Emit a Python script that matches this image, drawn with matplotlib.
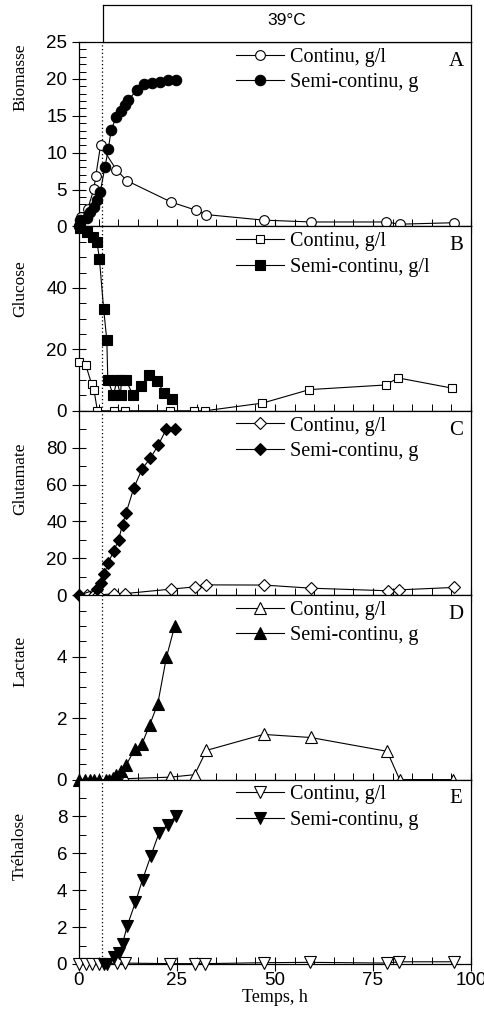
import matplotlib
matplotlib.use('Agg')
import matplotlib.pyplot as plt
from matplotlib.ticker import MultipleLocator, FixedLocator

# ---------------- data ----------------
# A - Biomasse
bio_c_x = [0.4, 2.2, 3.8, 4.3, 5.5, 9.5, 12.2, 23.5, 29.8, 32.5, 47.1, 59.2, 78.4, 81.8, 95.7]
bio_c_y = [1.3, 2.3, 5.1, 6.9, 11.0, 7.7, 6.2, 3.3, 2.2, 1.6, 0.85, 0.6, 0.6, 0.3, 0.5]
bio_s_x = [0.0, 0.3, 2.0, 2.8, 3.7, 4.5, 5.4, 6.6, 7.5, 8.2, 9.5, 10.6, 11.7, 12.6, 14.7, 16.6, 18.7, 20.7, 22.8, 24.8]
bio_s_y = [0.0, 0.9, 1.2, 2.0, 2.6, 3.6, 4.6, 8.0, 10.5, 13.1, 14.8, 15.6, 16.4, 17.1, 18.5, 19.3, 19.4, 19.6, 19.9, 19.9]

# B - Glucose
glc_c_x = [0.0, 1.7, 3.2, 3.8, 4.7, 8.9, 11.7, 23.2, 29.3, 32.1, 46.8, 58.8, 78.2, 81.4, 95.1]
glc_c_y = [15.8, 15.0, 8.8, 6.9, 0.0, 0.0, 0.0, 0.0, 0.0, 0.0, 2.5, 6.9, 8.4, 10.7, 7.4]
glc_s_x = [0.2, 2.0, 3.6, 4.6, 5.2, 6.3, 7.1, 7.35, 8.8, 9.65, 10.6, 10.8, 12.0, 13.8, 15.8, 17.9, 19.8, 21.8, 23.8]
glc_s_y = [59.4, 58.2, 56.6, 54.9, 49.5, 33.0, 22.9, 10.0, 5.0, 10.0, 5.0, 10.0, 10.0, 5.0, 8.0, 11.8, 9.8, 5.8, 3.9]

# C - Glutamate
glu_c_x = [2.0, 3.7, 4.8, 9.0, 11.8, 23.5, 29.5, 32.4, 47.2, 59.2, 78.7, 81.6, 95.6]
glu_c_y = [0.0, 0.0, 0.0, 0.9, 0.9, 3.3, 4.5, 5.6, 5.5, 3.8, 2.4, 2.9, 4.2]
glu_s_x = [0.0, 4.6, 5.7, 6.5, 7.4, 8.9, 10.1, 11.1, 12.0, 14.0, 16.1, 18.2, 20.2, 22.3, 24.4]
glu_s_y = [0.0, 3.3, 6.8, 11.5, 17.5, 24.0, 30.2, 38.2, 44.6, 58.2, 68.5, 74.3, 81.3, 90.2, 90.2]

# D - Lactate
lac_c_x = [9.5, 11.8, 23.3, 29.5, 32.5, 47.1, 59.1, 78.6, 81.8, 95.5]
lac_c_y = [0.0, 0.03, 0.08, 0.16, 0.95, 1.47, 1.37, 0.92, 0.0, 0.0]
lac_s_x = [0.0, 1.5, 2.7, 3.8, 5.0, 6.8, 7.7, 8.6, 9.5, 10.6, 12.1, 14.2, 16.1, 18.0, 20.1, 22.3, 24.4]
lac_s_y = [0.0, 0.0, 0.0, 0.0, 0.0, 0.0, 0.0, 0.05, 0.16, 0.27, 0.49, 0.98, 1.17, 1.77, 2.47, 3.98, 4.99]

# E - Trehalose
tre_c_x = [0.0, 1.7, 3.2, 5.1, 9.8, 11.7, 23.2, 29.6, 32.2, 47.1, 59.0, 78.6, 81.7, 95.7]
tre_c_y = [0.0, 0.0, 0.0, 0.0, 0.05, 0.05, 0.02, 0.02, 0.02, 0.07, 0.09, 0.05, 0.12, 0.12]
tre_s_x = [6.3, 7.2, 8.9, 10.2, 11.1, 12.3, 14.4, 16.2, 18.3, 20.4, 22.6, 24.7]
tre_s_y = [0.0, 0.0, 0.4, 0.6, 1.1, 2.07, 3.35, 4.57, 5.85, 7.1, 7.55, 8.04]

ylabels = ['Biomasse', 'Glucose', 'Glutamate', 'Lactate', 'Tréhalose']
letters = ['A', 'B', 'C', 'D', 'E']
lab_c = ['Continu, g/l'] * 5
lab_s = ['Semi-continu, g', 'Semi-continu, g/l', 'Semi-continu, g', 'Semi-continu, g', 'Semi-continu, g']
x_ticks = [0, 25, 50, 75, 100]
switch_time = 5.9

# ---------------- styling ----------------
SERIF = ['Liberation Serif', 'DejaVu Serif']
SANS = ['Liberation Sans', 'DejaVu Sans']

panels = [
    (bio_c_x, bio_c_y, bio_s_x, bio_s_y, 'o', 7.0, 7.5, (0, 25), [0, 5, 10, 15, 20, 25], 1, 0.81),
    (glc_c_x, glc_c_y, glc_s_x, glc_s_y, 's', 6.0, 6.5, (0, 60), [0, 20, 40], 5, 0.66),
    (glu_c_x, glu_c_y, glu_s_x, glu_s_y, 'D', 6.0, 6.0, (0, 100), [0, 20, 40, 60, 80], 10, 0.63),
    (lac_c_x, lac_c_y, lac_s_x, lac_s_y, '^', 8.0, 8.0, (0, 6), [0, 2, 4], 0.5, 0.64),
    (tre_c_x, tre_c_y, tre_s_x, tre_s_y, 'v', 8.0, 8.0, (0, 10), [0, 2, 4, 6, 8], 1, 0.64),
]

fig = plt.figure(figsize=(4.85, 10.11), dpi=100)
W, H = 485.0, 1011.0
left = 79 / W
width = 392 / W
top_px = 42.0
bot_px = 964.0
ph = (bot_px - top_px) / 5.0

for i, (cx, cy, sx, sy, mk, msc, mss, ylim, yt, ymin, ylab_y) in enumerate(panels):
    y0_px = top_px + (i + 1) * ph
    ax = fig.add_axes([left, (H - y0_px) / H, width, ph / H])
    ax.plot(cx, cy, color='black', lw=0.8, marker=mk, ms=msc, mfc='white', mec='black',
            mew=0.8, label=lab_c[i], clip_on=False, zorder=3)
    ax.plot(sx, sy, color='black', lw=0.8, marker=mk, ms=mss, mfc='black', mec='black',
            mew=0.8, label=lab_s[i], clip_on=False, zorder=4)
    ax.axvline(switch_time, color='black', ls=(0, (1, 2)), lw=0.9, zorder=1)
    ax.set_xlim(0, 100)
    ax.set_ylim(*ylim)
    ax.xaxis.set_major_locator(FixedLocator(x_ticks))
    ax.xaxis.set_minor_locator(MultipleLocator(5))
    ax.yaxis.set_major_locator(FixedLocator(yt))
    ax.yaxis.set_minor_locator(MultipleLocator(ymin))
    ax.tick_params(which='major', direction='inout', length=10, width=0.8)
    ax.tick_params(which='minor', direction='in', length=5, width=0.7)
    for lbl in ax.get_yticklabels():
        lbl.set_family(SANS)
        lbl.set_fontsize(13.5)
    if i < 4:
        ax.set_xticklabels([])
    else:
        ax.tick_params(axis='x', which='major', pad=1)
        ax.set_xticklabels([str(t) for t in x_ticks], family=SANS, fontsize=13.5)
        ax.set_xlabel('Temps, h', family=SERIF, fontsize=13, labelpad=0)
    ax.set_ylabel(ylabels[i], family=SERIF, fontsize=12.5)
    ax.yaxis.set_label_coords(-0.13, ylab_y)
    for sp in ax.spines.values():
        sp.set_linewidth(0.9)
    ax.legend(loc='upper left', bbox_to_anchor=(0.37, 1.035), frameon=False,
              prop={'family': SERIF, 'size': 14.5}, handlelength=2.4,
              handletextpad=0.3, labelspacing=0.32, borderaxespad=0.2)
    ax.text(0.962, 0.895, letters[i], transform=ax.transAxes, ha='center', va='center',
            family=SERIF, fontsize=15)

# top box with temperature
box_left = 103 / W
box = fig.add_axes([box_left, (H - top_px) / H, (471 - 103) / W, 37 / H])
box.set_xticks([])
box.set_yticks([])
for sp in box.spines.values():
    sp.set_linewidth(0.9)
box.text(0.5, 0.58, '39°C', transform=box.transAxes, ha='center', va='center',
         family=SANS, fontsize=12.5)

fig.savefig('out.png', dpi=100)
